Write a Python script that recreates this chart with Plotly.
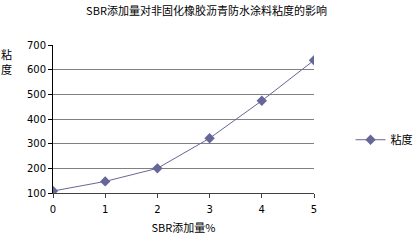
import plotly.graph_objects as go

sbr = [0, 1, 2, 3, 4, 5]
viscosity = [108, 147, 200, 322, 474, 638]
series_name = "粘度"
title = "SBR添加量对非固化橡胶沥青防水涂料粘度的影响"
x_title = "SBR添加量%"
y_title_chars = ["粘", "度"]

fig = go.Figure()
fig.add_trace(go.Scatter(
    x=sbr, y=viscosity, mode="lines+markers", name=series_name,
    line=dict(color="#666699", width=1),
    marker=dict(symbol="diamond", size=8, color="#666699"),
))

font = "Noto Sans CJK SC, DejaVu Sans, sans-serif"
fig.update_layout(
    width=413, height=242,
    margin=dict(l=53, r=99, t=45, b=49, autoexpand=False),
    paper_bgcolor="white", plot_bgcolor="white",
    font=dict(family=font, size=11, color="black"),
    title=dict(text=title, x=0.5, xanchor="center", y=0.955, yanchor="middle",
               font=dict(size=11, family=font)),
    showlegend=True,
    legend=dict(x=1.14, xanchor="left", y=0.36, yanchor="middle",
                font=dict(size=11, family=font), itemwidth=30,
                bgcolor="rgba(0,0,0,0)"),
    xaxis=dict(range=[0, 5], tickvals=sbr, showgrid=False, showline=True,
               linecolor="#404040", linewidth=1, ticks="outside", ticklen=4,
               tickcolor="#404040", zeroline=False, ticklabelstandoff=3,
               tickfont=dict(size=10, family="DejaVu Sans"),
               title=dict(text=x_title, font=dict(size=11, family=font), standoff=10)),
    yaxis=dict(range=[100, 700], tickvals=[100, 200, 300, 400, 500, 600, 700],
               showgrid=True, gridcolor="#808080", gridwidth=1, showline=True,
               linecolor="black", linewidth=1, ticks="outside", ticklen=4,
               tickcolor="black", zeroline=False,
               tickfont=dict(size=10, family="DejaVu Sans")),
)
for i, ch in enumerate(y_title_chars):
    fig.add_annotation(text=ch, xref="paper", yref="paper", x=-0.18,
                       y=0.94 - i * 0.105, xanchor="center", yanchor="middle",
                       showarrow=False, borderpad=0,
                       font=dict(size=11, family=font))

fig.write_html("out.html")
